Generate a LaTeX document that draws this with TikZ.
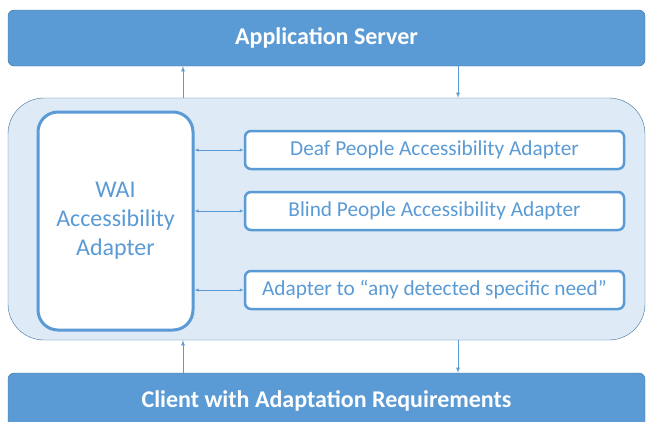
\documentclass[tikz,border=0pt]{standalone}
\usepackage{fontspec}
\setmainfont{Carlito}
\definecolor{accblue}{HTML}{5B9BD5}
\definecolor{accdark}{HTML}{41719C}
\definecolor{accpale}{HTML}{DEEAF6}
\tikzset{
  >=latex,
}
\tikzstyle{tier}=[draw=accdark,fill=accblue,rounded corners=6,text=white,font=\bfseries\fontsize{24}{28}\selectfont,minimum width=637,minimum height=56]
\tikzstyle{panel}=[draw=accdark,fill=accpale,rounded corners=36,minimum width=637,minimum height=242]
\tikzstyle{core}=[draw=accblue,line width=3,fill=white,rounded corners=20,minimum width=155,minimum height=218,text=accblue,align=center,font=\fontsize{24}{29}\selectfont]
\tikzstyle{adapter}=[draw=accblue,line width=2.5,fill=white,rounded corners=6,minimum width=379,minimum height=38,text=accblue,font=\fontsize{21.3}{24}\selectfont]
\tikzstyle{flow}=[accblue,thick,->]
\tikzstyle{link}=[accblue,<->]

\begin{document}
\begin{tikzpicture}[x=1pt,y=-1pt]
  \useasboundingbox (0,0) rectangle (647,421);
  \node[tier] (server) at (326.5,38) {Application Server};
  \node[tier] (client) at (326.5,401) {Client with Adaptation Requirements};
  \node[panel] (box) at (326.5,219) {};
  \node[core] (wai) at (115.5,221) {WAI\\Accessibility\\Adapter};
  \node[adapter] (deaf) at (434.5,150) {Deaf People Accessibility Adapter};
  \node[adapter] (blind) at (434.5,211) {Blind People Accessibility Adapter};
  \node[adapter] (any) at (434.5,290) {Adapter to “any detected specific need”};
  % vertical links
  \coordinate (upx) at (183,0);
  \coordinate (downx) at (458,0);
  \draw[flow] (box.north -| upx) -- (server.south -| upx);
  \draw[flow] (server.south -| downx) -- (box.north -| downx);
  \draw[flow] (client.north -| upx) -- (box.south -| upx);
  \draw[flow] (box.south -| downx) -- (client.north -| downx);
  % side links
  \draw[link] (wai.east |- deaf.west) -- (deaf.west);
  \draw[link] (wai.east |- blind.west) -- (blind.west);
  \draw[link] (wai.east |- any.west) -- (any.west);
\end{tikzpicture}
\end{document}
